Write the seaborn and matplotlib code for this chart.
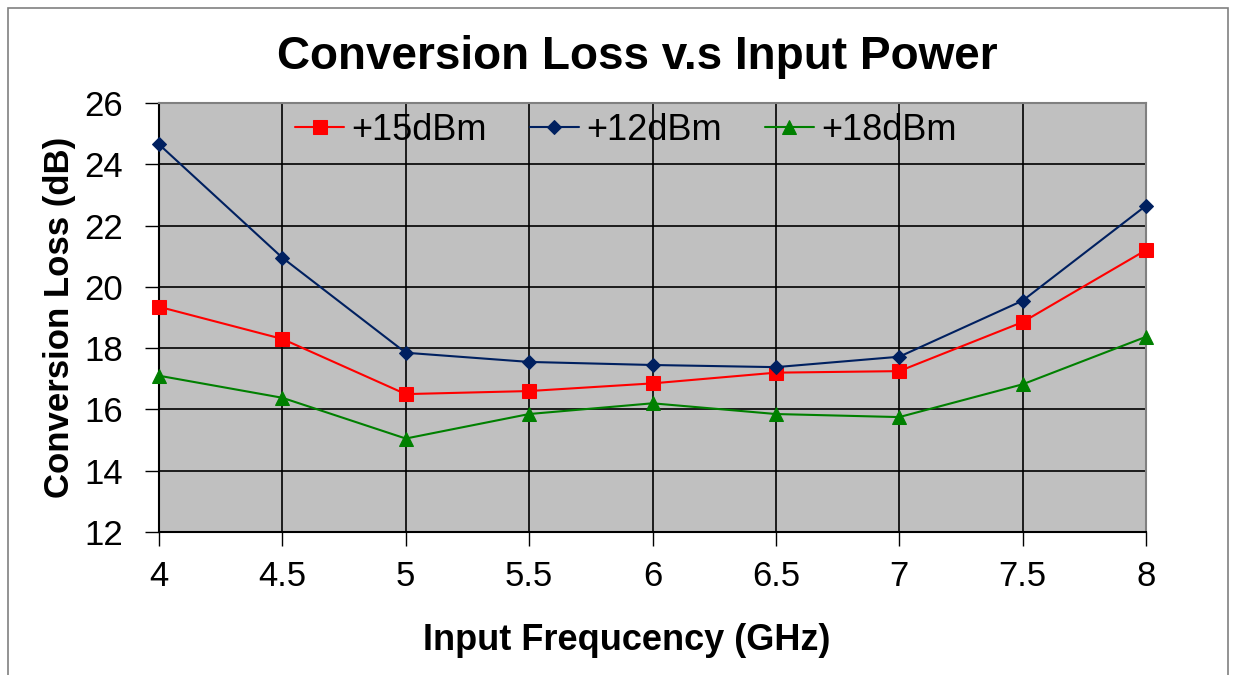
import matplotlib
matplotlib.use("Agg")
import matplotlib.pyplot as plt
import seaborn as sns
from matplotlib.patches import Rectangle

# data
freq_ghz = [4, 4.5, 5, 5.5, 6, 6.5, 7, 7.5, 8]
loss_15dbm = [19.35, 18.3, 16.5, 16.6, 16.85, 17.2, 17.25, 18.85, 21.2]
loss_12dbm = [24.65, 20.95, 17.85, 17.55, 17.45, 17.38, 17.72, 19.55, 22.65]
loss_18dbm = [17.1, 16.38, 15.05, 15.85, 16.2, 15.85, 15.75, 16.82, 18.37]
series_names = ["+15dBm", "+12dBm", "+18dBm"]
y_ticks = [12, 14, 16, 18, 20, 22, 24, 26]
x_ticks = [4, 4.5, 5, 5.5, 6, 6.5, 7, 7.5, 8]
x_tick_labels = ["4", "4.5", "5", "5.5", "6", "6.5", "7", "7.5", "8"]

sns.set_style("white")
plt.rcParams['font.family'] = ['Liberation Sans', 'DejaVu Sans']
plt.rcParams['text.color'] = 'black'
plt.rcParams['axes.labelcolor'] = 'black'
plt.rcParams['xtick.color'] = 'black'
plt.rcParams['ytick.color'] = 'black'

fig = plt.figure(figsize=(12.33, 6.75), dpi=100)
ax = fig.add_axes([159 / 1233, 1 - 532 / 675, (1146 - 159) / 1233, (532 - 103) / 675])
ax.set_facecolor("#C0C0C0")

styles = [
    (loss_15dbm, "#FF0000", "s", 10),
    (loss_12dbm, "#002060", "D", 7.5),
    (loss_18dbm, "#008000", "^", 10),
]
for name, (vals, col, mk, ms) in zip(series_names, styles):
    sns.lineplot(x=freq_ghz, y=vals, ax=ax, color=col, marker=mk,
                 markersize=ms, markeredgecolor=col, linewidth=1.5,
                 label=name, zorder=3, clip_on=False)

ax.set_xlim(4, 8)
ax.set_ylim(12, 26)
ax.set_xticks(x_ticks)
ax.set_xticklabels(x_tick_labels)
ax.set_yticks(y_ticks)
ax.grid(True, color="black", linewidth=1.2)
ax.set_axisbelow(True)
ax.tick_params(axis="x", labelsize=25, direction="out", length=10,
               width=1, pad=10, bottom=True)
ax.tick_params(axis="y", labelsize=25, direction="out", length=10,
               width=1, pad=16, left=True)
for s in ax.spines.values():
    s.set_color("#808080")
    s.set_linewidth(1.5)
ax.spines["left"].set_color("black")
ax.spines["bottom"].set_color("black")

ax.set_xlabel("Input Frequcency (GHz)", fontsize=26, fontweight="bold", labelpad=22)
ax.xaxis.label.set_x(0.474)
ax.set_ylabel("Conversion Loss (dB)", fontsize=25, fontweight="bold", labelpad=6)
fig.text(637 / 1233, 1 - 57 / 675, "Conversion Loss v.s Input Power",
         fontsize=33, fontweight="bold", ha="center", va="center")

ax.legend(loc="center", bbox_to_anchor=(0.473, 0.936), ncol=3,
          frameon=False, fontsize=26, handlelength=1.35, columnspacing=1.2,
          handletextpad=0.2, borderaxespad=0)

# chart border
fig.patches.append(Rectangle((8 / 1233, -0.01), 1 - 13 / 1233, 1 - 8 / 675 + 0.01,
                             transform=fig.transFigure, fill=False,
                             edgecolor="#808080", linewidth=1.2))

fig.savefig("out.png", dpi=100)
